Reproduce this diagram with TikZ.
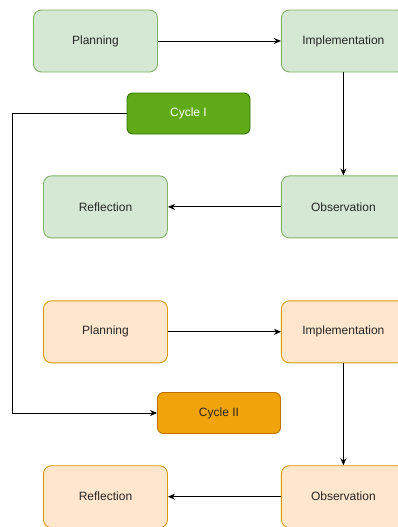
\documentclass[tikz,border=0pt]{standalone}
\usepackage{fontspec}
\setmainfont{Liberation Sans}
\usepackage{tikz}
\usetikzlibrary{arrows,arrows.meta,positioning}

\definecolor{grfill}{HTML}{D5E8D4}
\definecolor{grline}{HTML}{82B366}
\definecolor{orfill}{HTML}{FFE6CC}
\definecolor{orline}{HTML}{D79B00}
\definecolor{cyconefill}{HTML}{60A917}
\definecolor{cyconeline}{HTML}{2D7600}
\definecolor{cyctwofill}{HTML}{F0A30A}
\definecolor{cyctwoline}{HTML}{BD7000}

\begin{document}
\begin{tikzpicture}[x=1pt,y=-1pt,>={Stealth[length=7pt,width=6pt]},line width=0.9pt,
  stage/.style={rectangle,draw,rounded corners=8pt,minimum width=124pt,minimum height=62pt,inner sep=0pt,font=\fontsize{12}{14}\selectfont,text=black!85},
  green stage/.style={stage,fill=grfill,draw=grline},
  orange stage/.style={stage,fill=orfill,draw=orline},
  cycle box/.style={rectangle,draw,rounded corners=6pt,minimum width=123pt,minimum height=41pt,inner sep=0pt,font=\fontsize{12}{14}\selectfont}]
\useasboundingbox (0,0) rectangle (398,527);

% Cycle I
\node (plan1) [green stage] at (95.5,41) {Planning};
\node (impl1) [green stage,right=123pt of plan1] {Implementation};
\node (obs1) [green stage,below=103pt of impl1] {Observation};
\node (refl1) [green stage,left=113pt of obs1] {Reflection};
\node (cyc1) [cycle box,fill=cyconefill,draw=cyconeline,text=white] at (188.5,113.5) {Cycle I};

% Cycle II
\node (plan2) [orange stage,below=62pt of refl1] {Planning};
\node (impl2) [orange stage,right=113pt of plan2] {Implementation};
\node (obs2) [orange stage,below=102pt of impl2] {Observation};
\node (refl2) [orange stage,left=113pt of obs2] {Reflection};
\node (cyc2) [cycle box,fill=cyctwofill,draw=cyctwoline,text=black!85] at (219,413) {Cycle II};

\draw[->] (plan1) -- (impl1);
\draw[->] (impl1) -- (obs1);
\draw[->] (obs1) -- (refl1);
\draw[->] (plan2) -- (impl2);
\draw[->] (impl2) -- (obs2);
\draw[->] (obs2) -- (refl2);
\draw[->] (cyc1.west) -- ++(-114,0) |- (cyc2.west);
\end{tikzpicture}
\end{document}
